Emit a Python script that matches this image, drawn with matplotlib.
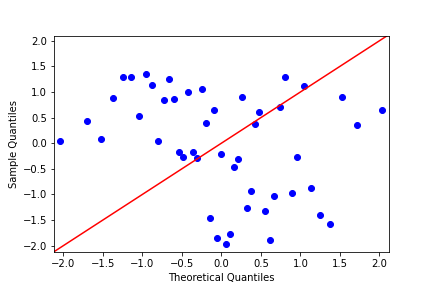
import matplotlib
matplotlib.use("Agg")
import matplotlib.pyplot as plt
import numpy as np

# theoretical quantiles (x) and sample quantiles (y)
theoretical = [-2.04, -1.70, -1.52, -1.37, -1.24, -1.14, -1.04, -0.95, -0.88, -0.80,
               -0.73, -0.66, -0.60, -0.54, -0.48, -0.42, -0.36, -0.31, -0.25, -0.20,
               -0.15, -0.10, -0.05, 0.00, 0.06, 0.11, 0.16, 0.21, 0.26, 0.32,
               0.37, 0.42, 0.48, 0.55, 0.61, 0.67, 0.74, 0.81, 0.89, 0.96,
               1.05, 1.14, 1.25, 1.38, 1.53, 1.72, 2.04]
sample = [0.04, 0.43, 0.09, 0.88, 1.29, 1.29, 0.54, 1.35, 1.14, 0.05,
          0.84, 1.25, 0.86, -0.18, -0.27, 1.01, -0.18, -0.29, 1.05, 0.39,
          -1.46, 0.64, -1.85, -0.22, -1.97, -1.77, -0.46, -0.31, 0.91, -1.26,
          -0.93, 0.37, 0.60, -1.32, -1.89, -1.03, 0.70, 1.29, -0.97, -0.26,
          1.11, -0.87, -1.40, -1.57, 0.90, 0.35, 0.64]

fig, ax = plt.subplots(figsize=(6, 4), dpi=72)
fig.subplots_adjust(left=0.125, right=0.9, top=0.876, bottom=0.126)

ax.plot(theoretical, sample, 'bo', markersize=6)

# 45 degree reference line across the axes
lims = (-2.12, 2.12)
ax.plot(lims, lims, 'r-', lw=1.5)
ax.set_xlim(lims)
ax.set_ylim(-2.12, 2.10)

ax.set_xlabel('Theoretical Quantiles')
ax.set_ylabel('Sample Quantiles')

plt.savefig('out.png', dpi=72)
